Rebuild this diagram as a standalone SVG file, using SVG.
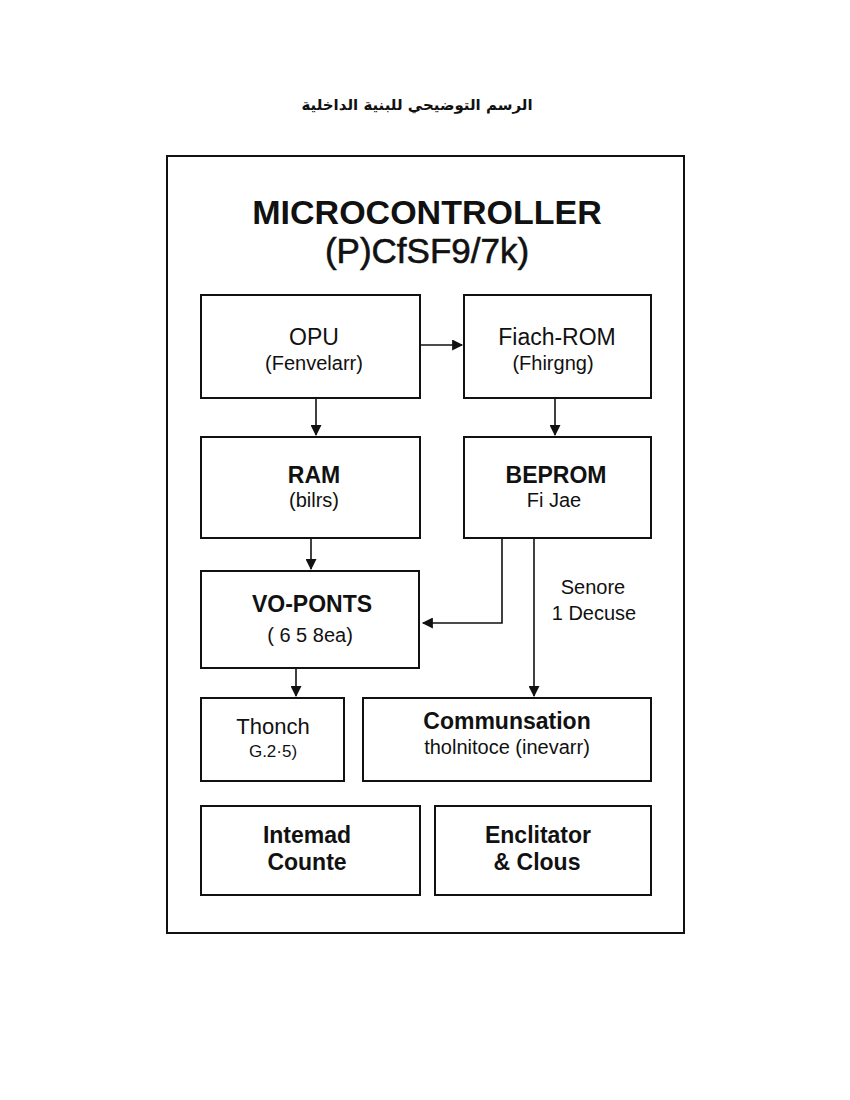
<svg xmlns="http://www.w3.org/2000/svg" width="850" height="1100" viewBox="0 0 850 1100">
<style>
text{font-family:"Liberation Sans",Arial,"DejaVu Sans",sans-serif;fill:#111;text-anchor:middle}
.box{fill:#fff;stroke:#111;stroke-width:2}
.t{font-size:23px}
.tb{font-size:23px;font-weight:bold}
.s{font-size:20px}
.c{fill:none;stroke:#111;stroke-width:1.6}
</style>
<defs>
<marker id="ah" viewBox="0 0 10 10" refX="9" refY="5" markerWidth="12" markerHeight="11" markerUnits="userSpaceOnUse" orient="auto">
<path d="M0,0 L10,5 L0,10 Z" fill="#111"/>
</marker>
</defs>
<rect width="850" height="1100" fill="#fff"/>
<text x="417" y="110" style="font-size:15px;font-weight:bold;font-family:'DejaVu Sans','Liberation Sans',sans-serif" direction="rtl">الرسم التوضيحي للبنية الداخلية</text>
<g id="frame">
<rect x="167" y="156" width="517" height="777" fill="none" stroke="#111" stroke-width="2"/>
<text x="427" y="224" style="font-size:34px;font-weight:bold">MICROCONTROLLER</text>
<text x="427" y="263" style="font-size:35px;stroke:#111;stroke-width:0.6">(P)CfSF9/7k)</text>
</g>
<g id="connectors">
<line class="c" x1="420" y1="345" x2="462" y2="345" marker-end="url(#ah)"/>
<line class="c" x1="316" y1="398" x2="316" y2="435" marker-end="url(#ah)"/>
<line class="c" x1="555" y1="398" x2="555" y2="435" marker-end="url(#ah)"/>
<line class="c" x1="311" y1="538" x2="311" y2="569" marker-end="url(#ah)"/>
<polyline class="c" points="502,538 502,623 423,623" marker-end="url(#ah)"/>
<line class="c" x1="534" y1="538" x2="534" y2="696" marker-end="url(#ah)"/>
<line class="c" x1="296" y1="668" x2="296" y2="696" marker-end="url(#ah)"/>
<text class="s" x="593" y="594">Senore</text>
<text class="s" x="594" y="620">1 Decuse</text>
</g>
<g id="cpu">
<rect class="box" x="201" y="295" width="219" height="103"/>
<text class="t" x="314" y="345">OPU</text>
<text class="s" x="314" y="370">(Fenvelarr)</text>
</g>
<g id="flash">
<rect class="box" x="464" y="295" width="187" height="103"/>
<text class="t" x="557" y="345">Fiach-ROM</text>
<text class="s" x="553" y="370">(Fhirgng)</text>
</g>
<g id="ram">
<rect class="box" x="201" y="437" width="219" height="101"/>
<text class="tb" x="314" y="483">RAM</text>
<text class="s" x="314" y="507">(bilrs)</text>
</g>
<g id="eeprom">
<rect class="box" x="464" y="437" width="187" height="101"/>
<text class="tb" x="556" y="483">BEPROM</text>
<text class="s" x="554" y="507">Fi Jae</text>
</g>
<g id="io">
<rect class="box" x="201" y="571" width="218" height="97"/>
<text class="tb" x="312" y="612">VO-PONTS</text>
<text class="s" x="310" y="642">( 6 5 8ea)</text>
</g>
<g id="thonch">
<rect class="box" x="201" y="698" width="143" height="83"/>
<text class="t" x="273" y="734" style="font-size:22px">Thonch</text>
<text x="273" y="757" style="font-size:17px">G.2·5)</text>
</g>
<g id="comm">
<rect class="box" x="363" y="698" width="288" height="83"/>
<text class="tb" x="507" y="729">Communsation</text>
<text class="s" x="507" y="754">tholnitoce (inevarr)</text>
</g>
<g id="counter">
<rect class="box" x="201" y="806" width="219" height="89"/>
<text class="tb" x="307" y="843">Intemad</text>
<text class="tb" x="307" y="870">Counte</text>
</g>
<g id="osc">
<rect class="box" x="435" y="806" width="216" height="89"/>
<text class="tb" x="538" y="843">Enclitator</text>
<text class="tb" x="537" y="870">&amp; Clous</text>
</g>
</svg>
